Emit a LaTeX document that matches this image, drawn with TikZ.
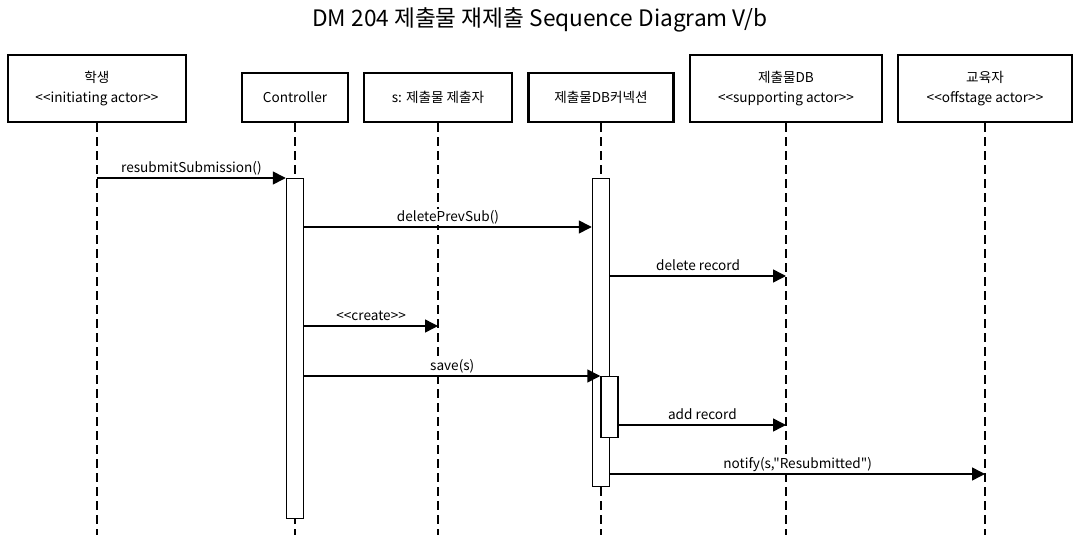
\documentclass[tikz,border=0pt]{standalone}
\usepackage{fontspec}
\setmainfont{Noto Sans CJK KR}[Ligatures=TeXOff]
\usetikzlibrary{arrows.meta}
\tikzset{
    objbox/.style={draw, line width=1.9pt, align=center, inner sep=0pt, minimum width=#1*0.75pt, font=\fontsize{10.2}{15}\selectfont},
    lifeline/.style={line width=1.1pt, dash pattern=on 6.75pt off 3.75pt},
    act/.style={draw, fill=white, line width=1.1pt, inner sep=0pt, anchor=north, minimum width=12.75pt, minimum height=#1*0.75pt},
    msg/.style={line width=1.1pt, -{Triangle[length=9.75pt, width=9.75pt]}},
    msglabel/.style={anchor=base, yshift=4.2pt, fill=white, inner xsep=1.5pt, inner ysep=0.6pt, font=\fontsize{10.2}{11}\selectfont},
}

\begin{document}
\begin{tikzpicture}[x=0.75pt, y=-0.75pt]
    \useasboundingbox (0,0) rectangle (1079,535);
    \node[font=\fontsize{17}{20}\selectfont] (title) at (540,19.5) {DM 204 제출물 재제출 Sequence Diagram V/b};

    % objects
    \node[objbox=178, minimum height=50.25pt] (student) at (97,88.5) {학생\\<<initiating actor>>};
    \node[objbox=106, minimum height=36.75pt] (ctrl) at (295,97.5) {Controller};
    \node[objbox=148, minimum height=36.75pt] (sub) at (438,97.5) {s: 제출물 제출자};
    \node[objbox=145, minimum height=36.75pt] (conn) at (601,97.5) {제출물DB커넥션};
    \node[objbox=192, minimum height=50.25pt] (db) at (786,88.5) {제출물DB\\<<supporting actor>>};
    \node[objbox=174, minimum height=50.25pt] (prof) at (985,88.5) {교육자\\<<offstage actor>>};

    % lifelines
    \coordinate (bottom) at (0,535);
    \foreach \n in {student,ctrl,sub,conn,db,prof}
        \draw[lifeline] (\n.south) -- (\n.south |- bottom);

    % activations
    \node[act=340] (ctrlact) at (ctrl.south |- 0,178) {};
    \node[act=308] (connact) at (conn.south |- 0,178) {};
    \node[act=61] (saveact) at (609.5,376) {};

    % messages
    \draw[msg] (student.south |- ctrlact.north) -- (ctrlact.north west) node[msglabel, midway]{resubmitSubmission()};
    \draw[msg] (ctrlact.east |- 0,227) -- (connact.west |- 0,227) node[msglabel, midway]{deletePrevSub()};
    \draw[msg] (connact.east |- 0,276) -- (db.south |- 0,276) node[msglabel, midway]{delete record};
    \draw[msg] (ctrlact.east |- 0,326) -- (sub.south |- 0,326) node[msglabel, midway]{<<create>>};
    \draw[msg] (ctrlact.east |- saveact.north) -- (saveact.north west) node[msglabel, midway]{save(s)};
    \draw[msg] (saveact.east |- 0,425) -- (db.south |- 0,425) node[msglabel, midway]{add record};
    \draw[msg] (connact.east |- 0,474) -- (prof.south |- 0,474) node[msglabel, midway]{notify(s,"Resubmitted")};
\end{tikzpicture}
\end{document}
